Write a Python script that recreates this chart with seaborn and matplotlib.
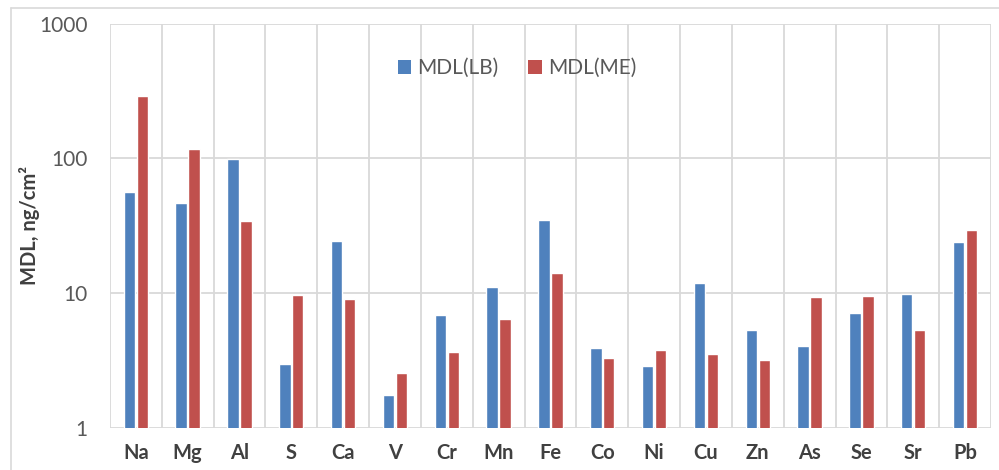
import numpy as np
import pandas as pd
import matplotlib.pyplot as plt
import seaborn as sns
from matplotlib.lines import Line2D
from matplotlib.patches import Patch

elements = ['Na', 'Mg', 'Al', 'S', 'Ca', 'V', 'Cr', 'Mn', 'Fe', 'Co', 'Ni',
            'Cu', 'Zn', 'As', 'Se', 'Sr', 'Pb']
mdl_lb = [56, 46.5, 99, 3.0, 24.6, 1.75, 6.9, 11.2, 35, 3.95, 2.9,
          11.9, 5.35, 4.07, 7.2, 9.95, 24]
mdl_me = [292, 117, 34.6, 9.7, 9.0, 2.58, 3.7, 6.4, 14.1, 3.3, 3.8,
          3.54, 3.19, 9.35, 9.5, 5.35, 29.5]
series = ['MDL(LB)', 'MDL(ME)']
colors = ['#4F81BD', '#C0504D']

df = pd.DataFrame({
    'Element': elements * 2,
    'MDL': mdl_lb + mdl_me,
    'Serie': [series[0]] * len(elements) + [series[1]] * len(elements),
})

sns.set_style('white')
plt.rcParams['font.family'] = ['Lato', 'DejaVu Sans']

fig = plt.figure(figsize=(9.99, 4.7), dpi=100)
ax = fig.add_axes([0.110, 0.089, 0.882, 0.861])

sns.barplot(data=df, x='Element', y='MDL', hue='Serie', palette=colors,
            width=0.5, gap=0.12, ax=ax, legend=False, saturation=1)

ax.set_yscale('log')
ax.set_ylim(1, 1000)
ax.set_xlim(-0.5, len(elements) - 0.5)
ax.yaxis.set_major_locator(plt.FixedLocator([1, 10, 100, 1000]))
ax.yaxis.set_minor_locator(plt.NullLocator())
ax.set_yticklabels(['1', '10', '100', '1000'])

# Excel-style gridlines between categories
ax.set_xticks(np.arange(-0.5, len(elements), 1), minor=True)
ax.grid(which='minor', axis='x', color='#d9d9d9', linewidth=1.3)
ax.grid(which='major', axis='y', color='#d9d9d9', linewidth=1.3)
ax.grid(which='major', axis='x', visible=False)
ax.set_axisbelow(True)
for s in ax.spines.values():
    s.set_visible(False)

ax.tick_params(axis='both', which='both', length=0)
ax.tick_params(axis='y', labelsize=15, labelcolor='#595959', pad=16)
ax.tick_params(axis='x', labelsize=14.5, labelcolor='#404040', pad=11)
for t in ax.get_xticklabels():
    t.set_fontweight('bold')

ax.set_xlabel('')
ax.set_ylabel('MDL, ng/cm²', fontsize=14.5, fontweight='bold', color='#404040')
ax.yaxis.set_label_coords(-0.091, 0.5)
ax.yaxis.label.set_va('center')

handles = [Patch(facecolor=c, edgecolor='none') for c in colors]
ax.legend(handles, series, loc='center', bbox_to_anchor=(0.462, 0.89), ncol=2,
          frameon=False, fontsize=15, handlelength=0.65, handleheight=0.65,
          handletextpad=0.3, columnspacing=1.4, labelcolor='#595959')

# chart-area frame
fig.add_artist(Line2D([10.5 / 999, 1], [1 - 8 / 470, 1 - 8 / 470], color='#d9d9d9', linewidth=1.2))
fig.add_artist(Line2D([10.5 / 999, 10.5 / 999], [0, 1 - 8 / 470], color='#d9d9d9', linewidth=1.2))

fig.savefig('out.png', dpi=100)
